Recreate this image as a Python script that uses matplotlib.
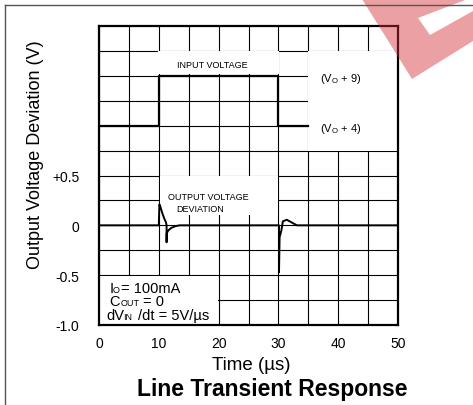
import matplotlib
matplotlib.use("Agg")
import matplotlib.pyplot as plt
from matplotlib.patches import Rectangle, Polygon
from matplotlib.lines import Line2D

plt.rcParams['font.family'] = ['Liberation Sans', 'DejaVu Sans']
plt.rcParams['mathtext.fontset'] = 'custom'
plt.rcParams['mathtext.rm'] = 'Liberation Sans'

# scope traces
time_in = [0, 10, 10, 30, 30, 35]
v_in = [1.0, 1.0, 1.5, 1.5, 1.0, 1.0]

time_out = [0, 10.0, 10.1, 10.3, 10.6, 10.9, 11.2, 11.3, 11.3, 11.32, 11.6, 12.1, 12.8, 13.5,
            30.1, 30.1, 30.2, 30.5, 30.75, 31.4, 33.1, 50]
v_out = [0, 0, 0.21, 0.18, 0.12, 0.07, 0.03, 0.0, -0.17, -0.08, -0.05, -0.025, -0.008, 0,
         0, -0.47, -0.12, -0.05, 0.04, 0.056, 0, 0]

x_ticks = [0, 10, 20, 30, 40, 50]
y_ticks = [-1.0, -0.5, 0, 0.5]
y_tick_labels = ['-1.0', '-0.5', '0', '+0.5']

W, H = 473, 406
fig = plt.figure(figsize=(W / 100, H / 100), dpi=100)
ax = fig.add_axes([99 / W, 1 - 326 / H, 299 / W, 299 / H])

ax.set_xlim(0, 50)
ax.set_ylim(-1, 2)
ax.set_xticks(x_ticks)
ax.set_xticks([5, 15, 25, 35, 45], minor=True)
ax.set_yticks(y_ticks)
ax.set_yticklabels(y_tick_labels)
ax.set_yticks([-0.75, -0.25, 0.25, 0.75, 1.0, 1.25, 1.5, 1.75], minor=True)
ax.tick_params(which='both', length=0, labelsize=10)
ax.tick_params(axis='x', pad=8)
ax.tick_params(axis='y', pad=14)
ax.grid(which='both', color='black', linewidth=0.8)
ax.set_axisbelow(True)
for s in ax.spines.values():
    s.set_linewidth(1.6)

# white label boxes covering the grid
def white_box(x0, y0, x1, y1):
    ax.add_patch(Rectangle((x0, y0), x1 - x0, y1 - y0, facecolor='white',
                           edgecolor='none', zorder=1.5))

white_box(9.9, 1.52, 30.1, 1.745)
white_box(35, 0.75, 49.8, 1.745)
white_box(10.15, 0.1, 29.85, 0.495)
white_box(0, -1, 19.9, -0.505)

ax.plot(time_in, v_in, color='black', linewidth=1.6, zorder=3)
ax.plot(time_out, v_out, color='black', linewidth=1.4, zorder=3)

ax.text(13.0, 1.59, 'INPUT VOLTAGE', fontsize=6.5, va='baseline', zorder=4)
ax.text(37, 1.48, r'(V$_\mathrm{O}$ + 9)', fontsize=8, va='center', zorder=4)
ax.text(37, 0.98, r'(V$_\mathrm{O}$ + 4)', fontsize=8, va='center', zorder=4)
ax.text(11.5, 0.264, 'OUTPUT VOLTAGE', fontsize=6.5, va='baseline', zorder=4)
ax.text(12.9, 0.144, 'DEVIATION', fontsize=6.5, va='baseline', zorder=4)

# conditions, with small-caps subscripts
ax.text(1.8, -0.666, 'I', fontsize=10.5, va='baseline', zorder=4)
ax.text(2.3, -0.666, 'O', fontsize=6.5, va='baseline', zorder=4)
ax.text(3.7, -0.666, '= 100mA', fontsize=10.5, va='baseline', zorder=4)
ax.text(1.75, -0.80, 'C', fontsize=10.5, va='baseline', zorder=4)
ax.text(3.6, -0.80, 'OUT', fontsize=6.5, va='baseline', zorder=4)
ax.text(7.4, -0.80, '= 0', fontsize=10.5, va='baseline', zorder=4)
ax.text(1.3, -0.943, 'dV', fontsize=10.5, va='baseline', zorder=4)
ax.text(4.1, -0.943, 'IN', fontsize=6.5, va='baseline', zorder=4)
ax.text(6.5, -0.943, '/dt = 5V/\u00b5s', fontsize=10.5, va='baseline', zorder=4)

fig.text(36 / W, 1 - 155 / H, 'Output Voltage Deviation (V)', rotation=90,
         ha='center', va='center', fontsize=13)
fig.text(251 / W, 1 - 366 / H, 'Time (\u00b5s)', ha='center', va='center', fontsize=13.5)
fig.text(272 / W, 1 - 390 / H, 'Line Transient Response', ha='center', va='center',
         fontsize=16.5, fontweight='bold')

# page frame
def px(x, y):
    return (x / W, 1 - y / H)

fig.add_artist(Line2D([5 / W, 1], [1 - 5.5 / H] * 2, color='#555555', linewidth=1))
fig.add_artist(Line2D([5 / W] * 2, [0, 1 - 5.5 / H], color='#555555', linewidth=1))

# watermark corner
fig.add_artist(Polygon([px(362, 0), px(473, 0), px(473, 42), px(412, 80)],
                       closed=True, facecolor='#D32C37', alpha=0.45,
                       edgecolor='none', transform=fig.transFigure))
fig.add_artist(Polygon([px(418, 19), px(430, 36), px(473, 12), px(473, -2)],
                       closed=True, facecolor='white', edgecolor='none',
                       transform=fig.transFigure))

fig.savefig('out.png', dpi=100)
